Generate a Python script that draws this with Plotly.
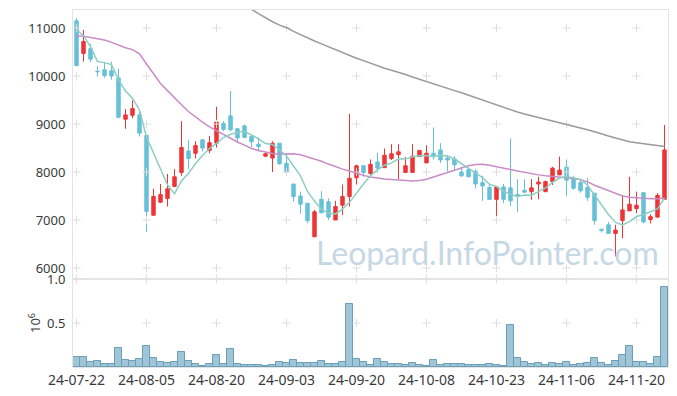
import plotly.graph_objects as go

dates = [
    "24-07-22","24-07-23","24-07-24","24-07-25","24-07-26","24-07-29","24-07-30","24-07-31",
    "24-08-01","24-08-02","24-08-05","24-08-06","24-08-07","24-08-08","24-08-09","24-08-12",
    "24-08-13","24-08-14","24-08-16","24-08-19","24-08-20","24-08-21","24-08-22","24-08-23",
    "24-08-26","24-08-27","24-08-28","24-08-29","24-08-30","24-09-02","24-09-03","24-09-04",
    "24-09-05","24-09-06","24-09-09","24-09-10","24-09-11","24-09-12","24-09-13","24-09-19",
    "24-09-20","24-09-23","24-09-24","24-09-25","24-09-26","24-09-27","24-09-30","24-10-02",
    "24-10-04","24-10-07","24-10-08","24-10-10","24-10-11","24-10-14","24-10-15","24-10-16",
    "24-10-17","24-10-18","24-10-21","24-10-22","24-10-23","24-10-24","24-10-25","24-10-28",
    "24-10-29","24-10-30","24-10-31","24-11-01","24-11-04","24-11-05","24-11-06","24-11-07",
    "24-11-08","24-11-11","24-11-12","24-11-13","24-11-14","24-11-15","24-11-18","24-11-19",
    "24-11-20","24-11-21","24-11-22","24-11-25","24-11-26",
]

open_ = [11150,10470,10570,10100,10130,10110,9960,9100,9180,9190,
         8760,7100,7370,7450,7700,7990,8440,8390,8670,8450,
         8600,9010,9170,8900,8960,8740,8580,8330,8290,8600,
         8180,7750,7500,7350,6650,7430,7380,7000,7310,7490,
         7880,8130,7970,8210,8090,8280,8360,7990,7990,8320,
         8190,8390,8460,8290,8270,8000,8050,8010,7780,7680,
         7430,7690,7670,7530,7620,7590,7750,7590,7800,7940,
         8100,7870,7780,7680,7560,6810,6900,6720,6990,7190,
         7240,7570,7010,7060,7430]
high = [11210,10960,10670,10200,10280,10300,10150,9310,9490,9260,
        8760,7650,7750,7960,8060,9060,8670,8640,8670,8750,
        9360,9060,9690,8920,8990,8760,8720,8400,8640,8600,
        8390,7750,7590,7350,7210,7600,7450,7400,7740,9210,
        8150,8130,8260,8400,8490,8580,8580,8310,8580,8450,
        8560,8930,8600,8350,8330,8110,8060,8060,7920,7730,
        7690,7750,8700,7850,7850,7850,7900,7820,8110,8320,
        8260,7920,7830,7870,7560,6810,6960,6900,7520,7900,
        7590,7570,7120,7560,8980]
low = [10200,10300,10290,9990,9960,9920,9120,8900,9120,8740,
       6750,7090,7360,7280,7690,7920,8060,8280,8430,8390,
       8510,8850,8850,8600,8710,8520,8430,8310,8000,8150,
       8000,7380,7130,6930,6650,7150,7000,7000,7100,7280,
       7740,7900,7900,7990,8090,8250,7850,7990,7990,8320,
       8190,8260,8190,8010,8040,7900,7900,7660,7400,7420,
       7030,7350,7290,7170,7560,7420,7430,7590,7730,7940,
       7500,7630,7570,7400,6900,6740,6710,6240,6620,7190,
       7140,6930,6930,7060,7430]
close = [10220,10720,10350,10090,10010,10000,9140,9190,9320,8810,
         7180,7490,7530,7650,7900,8510,8280,8550,8500,8610,
         9040,8890,8880,8710,8720,8630,8530,8380,8600,8170,
         8000,7490,7330,6990,7170,7150,7060,7280,7490,7870,
         8130,7990,8160,8080,8350,8380,8420,8130,8330,8450,
         8390,8320,8250,8250,8150,7920,7900,7750,7710,7430,
         7690,7430,7400,7500,7580,7670,7790,7800,8080,8040,
         7830,7660,7610,7470,6990,6780,6720,6790,7210,7330,
         7310,6960,7070,7510,8460]

ma5 = [10970,10840,10610,10300,10279,10236,9919,9689,9535,9293,
       8728,8397,8064,7731,7549,7814,7972,8177,8346,8489,
       8596,8718,8785,8826,8849,8767,8694,8593,8572,8461,
       8335,8126,7918,7594,7394,7225,7139,7128,7228,7368,
       7563,7749,7925,8044,8140,8190,8276,8269,8319,8340,
       8343,8323,8348,8332,8271,8176,8093,7993,7885,7742,
       7697,7603,7533,7492,7522,7517,7588,7667,7782,7874,
       7907,7882,7844,7724,7512,7301,7114,6950,6897,6965,
       7072,7114,7169,7231,7457]

ma20 = [10840,10830,10800,10775,10750,10700,10640,10590,10550,10460,
        10250,10040,9845,9695,9540,9400,9260,9140,9040,8940,
        8860,8770,8690,8625,8560,8490,8450,8410,8385,8375,
        8385,8380,8360,8320,8280,8225,8165,8110,8060,8020,
        7970,7930,7895,7870,7855,7845,7838,7828,7815,7825,
        7850,7895,7945,7995,8045,8090,8130,8155,8160,8140,
        8115,8088,8050,8020,7990,7962,7940,7922,7910,7895,
        7885,7865,7840,7795,7725,7665,7605,7550,7500,7472,
        7458,7451,7444,7444,7458]

# long moving average, visible only from the 25th session on (above the frame before)
ma_long_dates = dates[24:]
ma_long = [11450,11390,11300,11210,11130,11060,11010,10930,10860,10800,
           10730,10670,10610,10550,10480,10420,10370,10320,10265,10210,
           10160,10120,10080,10030,9980,9930,9880,9830,9790,9740,
           9695,9650,9600,9550,9500,9450,9390,9340,9290,9250,
           9210,9175,9140,9100,9070,9030,9000,8960,8920,8880,
           8840,8790,8750,8710,8670,8630,8610,8590,8570,8550,8530]

volume_m = [0.109,0.109,0.057,0.068,0.034,0.034,0.215,0.079,0.068,0.091,
            0.238,0.098,0.057,0.045,0.057,0.166,0.068,0.034,0.011,0.034,
            0.136,0.034,0.204,0.034,0.023,0.023,0.023,0.011,0.023,0.057,
            0.045,0.075,0.042,0.042,0.042,0.064,0.034,0.034,0.057,0.721,
            0.087,0.057,0.023,0.087,0.053,0.030,0.030,0.023,0.042,0.023,
            0.011,0.075,0.023,0.034,0.030,0.034,0.023,0.023,0.023,0.034,
            0.023,0.011,0.483,0.098,0.053,0.030,0.042,0.023,0.042,0.030,
            0.053,0.023,0.030,0.042,0.098,0.042,0.023,0.064,0.136,0.238,
            0.053,0.053,0.034,0.109,0.913]

x_tick_labels = dates[::10]
price_ticks = [6000, 7000, 8000, 9000, 10000, 11000]
vol_ticks = [0.5, 1.0]
vol_tick_labels = ["0.5", "1.0"]

UP = "#ee3535"
DOWN = "#66c0d8"
FONT = "Noto Sans"
LINE = "#e4e4e4"
CROSS = "#dedede"

fig = go.Figure()

# grid crosses at tick intersections
cx, cy = [], []
for d in x_tick_labels:
    for p in price_ticks:
        cx.append(d); cy.append(p)
fig.add_trace(go.Scatter(x=cx, y=cy, mode="markers", xaxis="x", yaxis="y",
                         marker=dict(symbol="cross-thin", size=6, line=dict(width=1, color=CROSS)),
                         hoverinfo="skip", showlegend=False, cliponaxis=False))
vx, vy = [], []
for d in x_tick_labels:
    for v in vol_ticks:
        vx.append(d); vy.append(v)
fig.add_trace(go.Scatter(x=vx, y=vy, mode="markers", xaxis="x2", yaxis="y2",
                         marker=dict(symbol="cross-thin", size=6, line=dict(width=1, color=CROSS)),
                         hoverinfo="skip", showlegend=False, cliponaxis=False))

fig.add_trace(go.Scatter(x=ma_long_dates, y=ma_long, mode="lines", xaxis="x", yaxis="y",
                         line=dict(color="#9a9a9a", width=1.5), hoverinfo="skip", showlegend=False))
fig.add_trace(go.Scatter(x=dates, y=ma20, mode="lines", xaxis="x", yaxis="y",
                         line=dict(color="#c98cc6", width=1.5), hoverinfo="skip", showlegend=False))
fig.add_trace(go.Scatter(x=dates, y=ma5, mode="lines", xaxis="x", yaxis="y",
                         line=dict(color="#8ccfc2", width=1.5), hoverinfo="skip", showlegend=False))

fig.add_trace(go.Candlestick(
    x=dates, open=open_, high=high, low=low, close=close, xaxis="x", yaxis="y",
    increasing=dict(line=dict(color=UP, width=1), fillcolor=UP),
    decreasing=dict(line=dict(color=DOWN, width=1), fillcolor=DOWN),
    whiskerwidth=0, showlegend=False, hoverinfo="skip"))

fig.add_trace(go.Bar(x=dates, y=volume_m, xaxis="x2", yaxis="y2",
                     marker=dict(color="#9fc5d6", line=dict(color="#6b9fb8", width=1)),
                     width=1.0, showlegend=False, hoverinfo="skip"))

split = (367 - 279) / 357

fig.update_layout(
    width=677, height=396,
    margin=dict(l=65, r=17, t=2, b=37, autoexpand=False),
    paper_bgcolor="white", plot_bgcolor="white",
    font=dict(family=FONT, size=13, color="#3a3a3a"),
    boxgap=0.3,
    bargap=0,
    xaxis=dict(type="category", domain=[0, 1], anchor="y", range=[-0.5, 84.5],
               showticklabels=False, showgrid=False, zeroline=False, automargin=False,
               showline=True, linecolor=LINE, linewidth=1, mirror=True,
               rangeslider=dict(visible=False), categoryorder="array", categoryarray=dates),
    yaxis=dict(domain=[split, 1], anchor="x", range=[5771, 11375], automargin=False,
               tickvals=price_ticks, ticktext=[str(p) for p in price_ticks],
               showgrid=False, zeroline=False, ticks="", ticklabelstandoff=4,
               tickfont=dict(size=13),
               showline=True, linecolor=LINE, linewidth=1, mirror=True),
    xaxis2=dict(type="category", domain=[0, 1], anchor="y2", range=[-0.5, 84.5],
                matches="x", tickvals=x_tick_labels, ticktext=x_tick_labels, automargin=False,
                showgrid=False, zeroline=False, ticks="", tickfont=dict(size=14),
                showline=True, linecolor=LINE, linewidth=1, mirror=True,
                categoryorder="array", categoryarray=dates),
    yaxis2=dict(domain=[0, split], anchor="x2", range=[0, 1.0], automargin=False,
                tickvals=vol_ticks, ticktext=vol_tick_labels,
                showgrid=False, zeroline=False, ticks="", ticklabelstandoff=4,
                tickfont=dict(size=13),
                showline=True, linecolor=LINE, linewidth=1, mirror=True,
                title=dict(text="10<sup>6</sup>", standoff=3,
                           font=dict(size=13, color="#3a3a3a"))),
    annotations=[dict(text="Leopard.InfoPointer.com", xref="paper", yref="paper",
                      x=0.697, y=0.322, xanchor="center", yanchor="middle", showarrow=False,
                      font=dict(family="Lato", size=32, color="#c6d8e4"))],
)

fig.write_html("out.html")
